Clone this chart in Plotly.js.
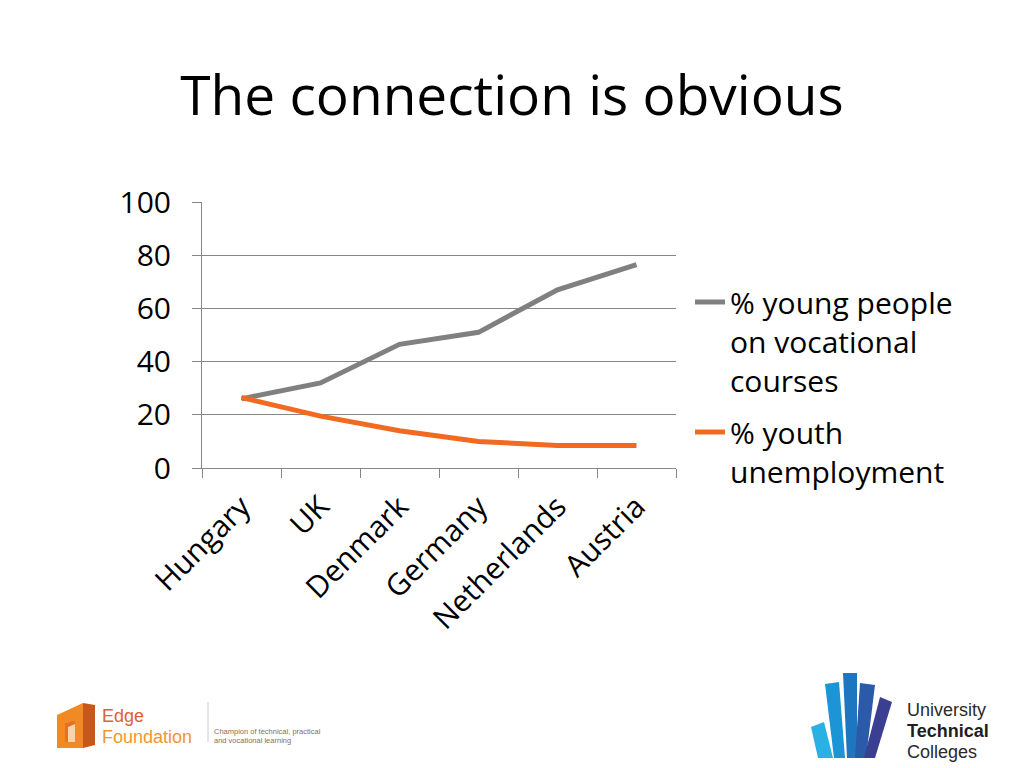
<!DOCTYPE html>
<html>
<head>
<meta charset="utf-8">
<script src="https://cdn.plot.ly/plotly-3.0.1.min.js"></script>
<style>html,body{margin:0;padding:0;background:#fff;}#chart{width:1024px;height:768px;}</style>
</head>
<body>
<div id="chart"></div>
<script>
// ---- data ----
const countries = ["Hungary", "UK", "Denmark", "Germany", "Netherlands", "Austria"];
const vocationalPct = [26, 32, 46.5, 51, 67, 76.5];
const youthUnemploymentPct = [26.5, 19.5, 14, 10, 8.5, 8.5];
const seriesNames = ["% young people<br>on vocational<br>courses", "% youth<br>unemployment"];
const yTickValues = [0, 20, 40, 60, 80, 100];

// plot area in pixels (for decoration placement)
const PL = 202, PR = 676, PT = 202, PB = 468;
const px = x => (x - PL) / (PR - PL);
const py = y => (PB - y) / (PB - PT);
function poly(pts, color) {
  let d = pts.map((p, i) => (i ? "L" : "M") + px(p[0]).toFixed(5) + "," + py(p[1]).toFixed(5)).join(" ") + " Z";
  return {type: "path", xref: "paper", yref: "paper", path: d, fillcolor: color, line: {width: 0}, layer: "above"};
}

const shapes = [
  // Edge Foundation logo mark
  poly([[83, 703], [95, 705], [95, 745], [83, 748]], "#c9561a"),
  poly([[57, 715], [83, 703], [83, 748], [57, 748]], "#f08a24"),
  poly([[65, 723], [75, 720], [75, 742], [65, 742]], "#fbd3a6"),
  poly([[65, 723], [75, 720], [75, 724], [68, 727], [68, 742], [65, 742]], "#e57220"),
  {type: "line", xref: "paper", yref: "paper", x0: px(208), x1: px(208), y0: py(702), y1: py(742), line: {color: "#cccccc", width: 1}},
  // UTC logo bars
  poly([[811, 727], [824, 722], [833, 758], [818, 758]], "#29b1e6"),
  poly([[825, 684], [839, 682], [845, 758], [834, 758]], "#1b95d6"),
  poly([[843, 673], [857, 673], [857, 758], [847, 758]], "#1f76c0"),
  poly([[860, 683], [875, 685], [866, 758], [855, 758]], "#2a5aa8"),
  poly([[880, 697], [892, 702], [875, 758], [864, 758]], "#3a3f92")
];

function ann(text, x, y, size, color, family, xanchor) {
  return {text: text, xref: "paper", yref: "paper", x: px(x), y: py(y), showarrow: false,
    xanchor: xanchor || "left", yanchor: "middle", align: "left",
    font: {size: size, color: color, family: family || "Liberation Sans"}};
}
const annotations = [
  ann("Edge", 100, 716, 18, "#e0622f", "Liberation Sans"),
  ann("Foundation", 100, 737, 18, "#f0962e", "Liberation Sans"),
  ann("Champion of technical, practical", 212, 731, 7.5, "#8c6c5a", "Liberation Sans"),
  ann("and vocational learning", 212, 740, 7.5, "#8c6c5a", "Liberation Sans"),
  ann("University", 905, 710, 18, "#2a2a2a", "Liberation Sans"),
  ann("<b>Technical</b>", 905, 731, 18, "#1e1e1e", "Liberation Sans"),
  ann("Colleges", 905, 752, 18, "#2a2a2a", "Liberation Sans")
];

const traces = [
  {type: "scatter", mode: "lines", x: countries, y: vocationalPct, name: seriesNames[0], legendgroup: "a",
   line: {color: "#808080", width: 5}},
  {type: "scatter", mode: "lines", x: countries, y: youthUnemploymentPct, name: seriesNames[1], legendgroup: "b",
   line: {color: "#f26a21", width: 5}}
];

const layout = {
  width: 1024, height: 768,
  margin: {l: PL, r: 1024 - PR, t: PT, b: 768 - PB, pad: 0},
  paper_bgcolor: "#ffffff", plot_bgcolor: "#ffffff",
  font: {family: "Open Sans", color: "#000000"},
  title: {text: "The connection is obvious", x: 0.5, xref: "container", xanchor: "center",
    y: 1 - 96 / 768, yref: "container", yanchor: "middle",
    font: {family: "Open Sans", size: 55, color: "#000000"}},
  xaxis: {type: "category", range: [-0.5, 5.5], tickson: "boundaries", ticks: "outside", ticklen: 9,
    tickcolor: "#868686", tickwidth: 1, showline: true, linecolor: "#868686", linewidth: 1,
    showgrid: false, zeroline: false, tickangle: -45, tickfont: {size: 30, family: "Open Sans"},
    ticklabelstandoff: 8, fixedrange: true},
  yaxis: {range: [0, 100], tickvals: yTickValues, ticks: "outside", ticklen: 9, tickcolor: "#868686",
    showline: true, linecolor: "#868686", linewidth: 1, showgrid: true, gridcolor: "#868686", gridwidth: 1,
    zeroline: false, tickfont: {size: 30, family: "Open Sans"}, ticklabelstandoff: 15, fixedrange: true},
  showlegend: true,
  legend: {x: px(690), y: py(276), xanchor: "left", yanchor: "top", valign: "top", tracegroupgap: 10,
    font: {size: 30, family: "Open Sans", color: "#000000"}, bgcolor: "rgba(0,0,0,0)", itemwidth: 30},
  shapes: shapes,
  annotations: annotations
};

Plotly.newPlot("chart", traces, layout, {displayModeBar: false, staticPlot: true});
</script>
</body>
</html>
